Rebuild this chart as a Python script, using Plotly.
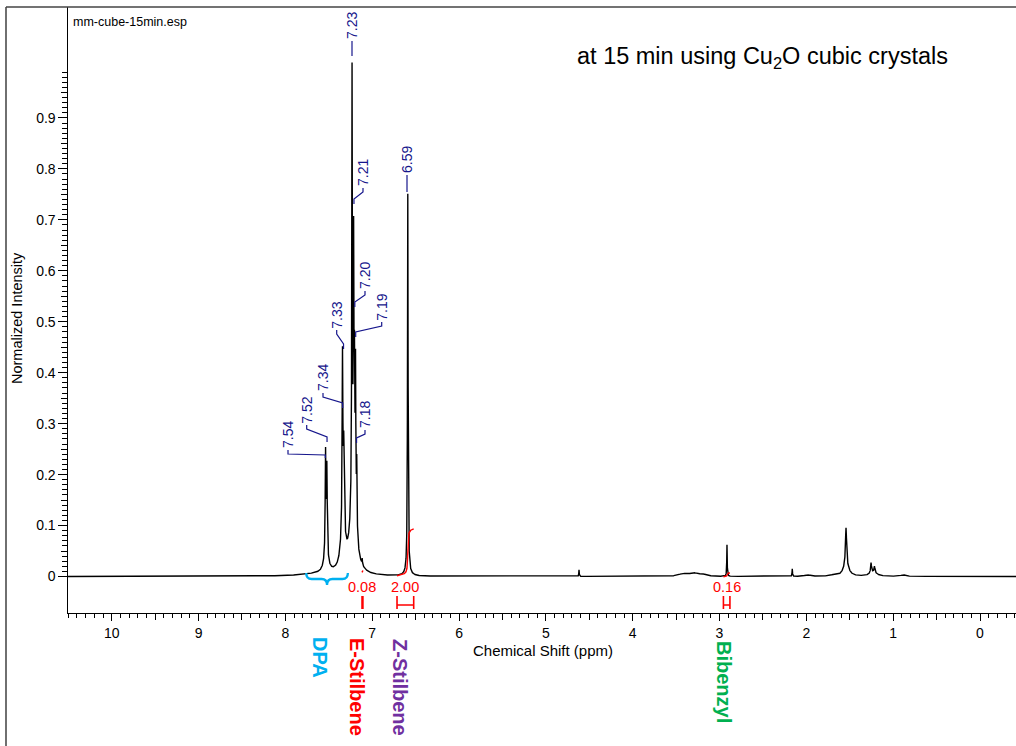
import numpy as np
import plotly.graph_objects as go

# ---------------- data ----------------
# Lorentzian line list (ppm, amplitude, half width)
peak_ppm = [7.537, 7.522, 7.342, 7.328, 7.232, 7.214, 7.204, 7.192, 7.178, 7.115,
            6.590, 4.618, 2.914, 2.162, 1.543, 1.255, 1.215,
            7.53, 7.335, 7.22, 6.59, 1.543, 3.42, 3.30, 3.20, 1.23, 0.887, 1.99, 1.70, 7.6]
peak_height = [0.20, 0.17, 0.34, 0.15, 0.84, 0.48, 0.24, 0.29, 0.13, 0.012,
               0.74, 0.013, 0.062, 0.015, 0.075, 0.02, 0.012,
               0.03, 0.08, 0.14, 0.01, 0.02, 0.005, 0.006, 0.004, 0.008, 0.003, 0.003, 0.002, 0.004]
peak_hwhm = [0.005, 0.005, 0.005, 0.005, 0.004, 0.004, 0.004, 0.004, 0.004, 0.003,
             0.004, 0.003, 0.003, 0.003, 0.008, 0.006, 0.006,
             0.03, 0.03, 0.04, 0.03, 0.04, 0.06, 0.05, 0.05, 0.05, 0.03, 0.04, 0.04, 0.3]

# peak picking labels
label_ppm = [7.54, 7.52, 7.34, 7.33, 7.23, 7.21, 7.20, 7.19, 7.18, 6.59]
label_text = ["7.54", "7.52", "7.34", "7.33", "7.23", "7.21", "7.20", "7.19", "7.18", "6.59"]

# integrals
int_start = [7.117, 6.714, 2.955]
int_end = [7.107, 6.522, 2.880]
int_value = [0.08, 2.00, 0.16]
int_text = ["0.08", "2.00", "0.16"]

# compound assignments
comp_names = ["DPA", "E-Stilbene", "Z-Stilbene", "Bibenzyl"]
comp_colors = ["#00B0F0", "#FF0000", "#7030A0", "#00B050"]
dpa_range = [7.76, 7.28]

y_ticks = [0, 0.1, 0.2, 0.3, 0.4, 0.5, 0.6, 0.7, 0.8, 0.9]
y_ticktext = ["0", "0.1", "0.2", "0.3", "0.4", "0.5", "0.6", "0.7", "0.8", "0.9"]

# ---------------- layout geometry ----------------
W, H = 1016, 746
ML, MT, MB = 68, 7, 133
PW, PH = W - ML, H - MT - MB
X0, X1 = 10.5033, -0.4146
Y0, Y1 = -0.07164, 1.11776

def px2ppm(px):
    return X0 + (px - ML) / PW * (X1 - X0)

def py2val(py):
    return Y1 - (py - MT) / PH * (Y1 - Y0)

def ppm2px(p):
    return ML + (X0 - p) / (X0 - X1) * PW

def px2paper(px):
    return (px - ML) / PW

def py2paper(py):
    return (MT + PH - py) / PH

# ---------------- spectrum ----------------
grid = np.union1d(np.arange(X1, X0, 0.0005), np.array(peak_ppm))
grid = grid[::-1]

def spectrum(x):
    x = np.asarray(x, dtype=float)
    s = np.zeros_like(x)
    for p, h, g in zip(peak_ppm, peak_height, peak_hwhm):
        s += h * g * g / ((x - p) ** 2 + g * g)
    return s

spec = spectrum(grid)

FONT = 'Arial, "Liberation Sans", sans-serif'
NAVY = "#16168C"
RED = "#FF0000"

fig = go.Figure()
fig.add_trace(go.Scatter(x=grid, y=spec, mode="lines",
                         line=dict(color="black", width=1.4),
                         showlegend=False, hoverinfo="skip"))

# integral curves
int_scale = 0.046
int_offset = [0.008, 0.0015, -0.0005]
for a, b, v, off in zip(int_start, int_end, int_value, int_offset):
    xs = np.linspace(a, b, 200)
    c = np.cumsum(spectrum(xs))
    c = c / c[-1] * v * int_scale + off
    fig.add_trace(go.Scatter(x=xs, y=c, mode="lines", line=dict(color=RED, width=1.4),
                             showlegend=False, hoverinfo="skip"))

# dummy trace for secondary tick axes
fig.add_trace(go.Scatter(x=[None], y=[None], xaxis="x2", yaxis="y2",
                         showlegend=False, hoverinfo="skip"))

shapes = []
annotations = []

# integral labels and brackets
for a, b, t in zip(int_start, int_end, int_text):
    cx = (a + b) / 2
    annotations.append(dict(x=cx, y=py2val(587), xref="x", yref="y", text=t,
                            showarrow=False, xanchor="center", yanchor="middle",
                            font=dict(family=FONT, size=14.5, color=RED)))
    yt, yb, yh = py2val(596), py2val(609), py2val(605)
    path = f"M {a},{yt} L {a},{yb} M {a},{yh} L {b},{yh} M {b},{yt} L {b},{yb}"
    shapes.append(dict(type="path", path=path, xref="x", yref="y",
                       line=dict(color=RED, width=1.6)))

# DPA brace
xL, xR = dpa_range
xm = (xL + xR) / 2
q = (xL - xR) * 0.13
y0b, ymb, y1b = py2val(573), py2val(579), py2val(585)
brace = (f"M {xL},{y0b} Q {xL},{ymb} {xL - q},{ymb} L {xm + q},{ymb} "
         f"Q {xm},{ymb} {xm},{y1b} Q {xm},{ymb} {xm - q},{ymb} "
         f"L {xR + q},{ymb} Q {xR},{ymb} {xR},{y0b}")
shapes.append(dict(type="path", path=brace, xref="x", yref="y",
                   line=dict(color=comp_colors[0], width=2.3)))

# peak labels with leader lines (text centres and leader end heights in pixels)
label_pos = [(288, 435), (306.7, 410), (323, 378), (336.7, 315), (352, 26),
             (363, 173), (365, 276), (381.7, 307), (365, 415), (407, 160)]
leader_end = [458, 442, 408, 349, 56, 204, 307, 337, 443, 192]
for p, t, (tx, ty), ey in zip(label_ppm, label_text, label_pos, leader_end):
    annotations.append(dict(x=px2ppm(tx), y=py2val(ty), xref="x", yref="y", text=t,
                            textangle=-90, showarrow=False, xanchor="center",
                            yanchor="middle", font=dict(family=FONT, size=14, color=NAVY)))
    px = ppm2px(p)
    sy = ty + 15
    if abs(px - tx) < 1.5:
        pts = [(tx, sy), (tx, ey)]
    else:
        e1 = sy + 4
        e2 = max(ey - 5, e1 + 1)
        pts = [(tx, sy), (tx, e1), (px, e2), (px, ey)]
    path = "M " + " L ".join(f"{px2ppm(a)},{py2val(b)}" for a, b in pts)
    shapes.append(dict(type="path", path=path, xref="x", yref="y",
                       line=dict(color=NAVY, width=1.2)))

# compound names below axis
comp_pos = [(320, 657), (357, 687), (400, 687), (724, 682)]
for name, col, (cx, cy) in zip(comp_names, comp_colors, comp_pos):
    annotations.append(dict(x=px2paper(cx), y=py2paper(cy), xref="paper", yref="paper",
                            text=f"<b>{name}</b>", textangle=90, showarrow=False,
                            xanchor="center", yanchor="middle",
                            font=dict(family=FONT, size=20, color=col)))

# titles / texts
annotations.append(dict(x=px2paper(71), y=py2paper(22), xref="paper", yref="paper",
                        text="mm-cube-15min.esp", showarrow=False, xanchor="left",
                        yanchor="middle", font=dict(family=FONT, size=12.5, color="black")))
annotations.append(dict(x=px2paper(575), y=py2paper(58), xref="paper", yref="paper",
                        text="at 15 min using Cu<sub>2</sub>O cubic crystals", showarrow=False,
                        xanchor="left", yanchor="middle",
                        font=dict(family=FONT, size=23.5, color="black")))
annotations.append(dict(x=px2paper(543), y=py2paper(650), xref="paper", yref="paper",
                        text="Chemical Shift (ppm)", showarrow=False, xanchor="center",
                        yanchor="middle", font=dict(family=FONT, size=15, color="black")))
annotations.append(dict(x=px2paper(17), y=py2paper(318), xref="paper", yref="paper",
                        text="Normalized Intensity", textangle=-90, showarrow=False,
                        xanchor="center", yanchor="middle",
                        font=dict(family=FONT, size=14.5, color="black")))

# outer frame
shapes.append(dict(type="line", xref="paper", yref="paper",
                   x0=px2paper(6), x1=px2paper(6), y0=py2paper(7), y1=py2paper(746),
                   line=dict(color="#222222", width=1.3)))
shapes.append(dict(type="line", xref="paper", yref="paper",
                   x0=px2paper(6), x1=1.0, y0=py2paper(7), y1=py2paper(7),
                   line=dict(color="#444444", width=1.5)))

y_minor = [round(i * 0.01, 2) for i in range(1, 100) if i % 5 != 0]
y_half = [round(0.05 + 0.1 * i, 2) for i in range(10)]
x_half = [0.5 + i for i in range(10)]

fig.update_layout(
    width=W, height=H,
    margin=dict(l=ML, r=0, t=MT, b=MB),
    paper_bgcolor="white", plot_bgcolor="white",
    font=dict(family=FONT, size=14, color="black"),
    showlegend=False,
    xaxis=dict(range=[X0, X1], showgrid=False, zeroline=False, showline=True,
               linecolor="black", linewidth=1.2, ticks="outside", ticklen=7,
               tickcolor="black", tickwidth=1, tick0=0, dtick=1,
               tickfont=dict(family=FONT, size=14),
               minor=dict(dtick=0.1, tick0=0, ticks="outside", ticklen=3.5,
                          tickcolor="black", tickwidth=1, showgrid=False)),
    yaxis=dict(range=[Y0, Y1], showgrid=False, zeroline=False, showline=True,
               linecolor="black", linewidth=1.2, ticks="outside", ticklen=8.5,
               tickcolor="black", tickwidth=1, tickmode="array",
               tickvals=y_ticks, ticktext=y_ticktext,
               tickfont=dict(family=FONT, size=14),
               minor=dict(tickmode="array", tickvals=y_minor, ticks="outside",
                          ticklen=4.5, tickcolor="black", tickwidth=1, showgrid=False)),
    xaxis2=dict(range=[X0, X1], overlaying="x", anchor="y2", side="bottom",
                showgrid=False, zeroline=False, showline=False, ticks="outside",
                ticklen=6, tickcolor="black", tickwidth=1, tickmode="array",
                tickvals=x_half, showticklabels=False),
    yaxis2=dict(range=[Y0, Y1], overlaying="y", anchor="x2", side="left",
                showgrid=False, zeroline=False, showline=False, ticks="outside",
                ticklen=6.5, tickcolor="black", tickwidth=1, tickmode="array",
                tickvals=y_half, showticklabels=False),
    shapes=shapes,
    annotations=annotations,
)

fig.write_html("out.html")
